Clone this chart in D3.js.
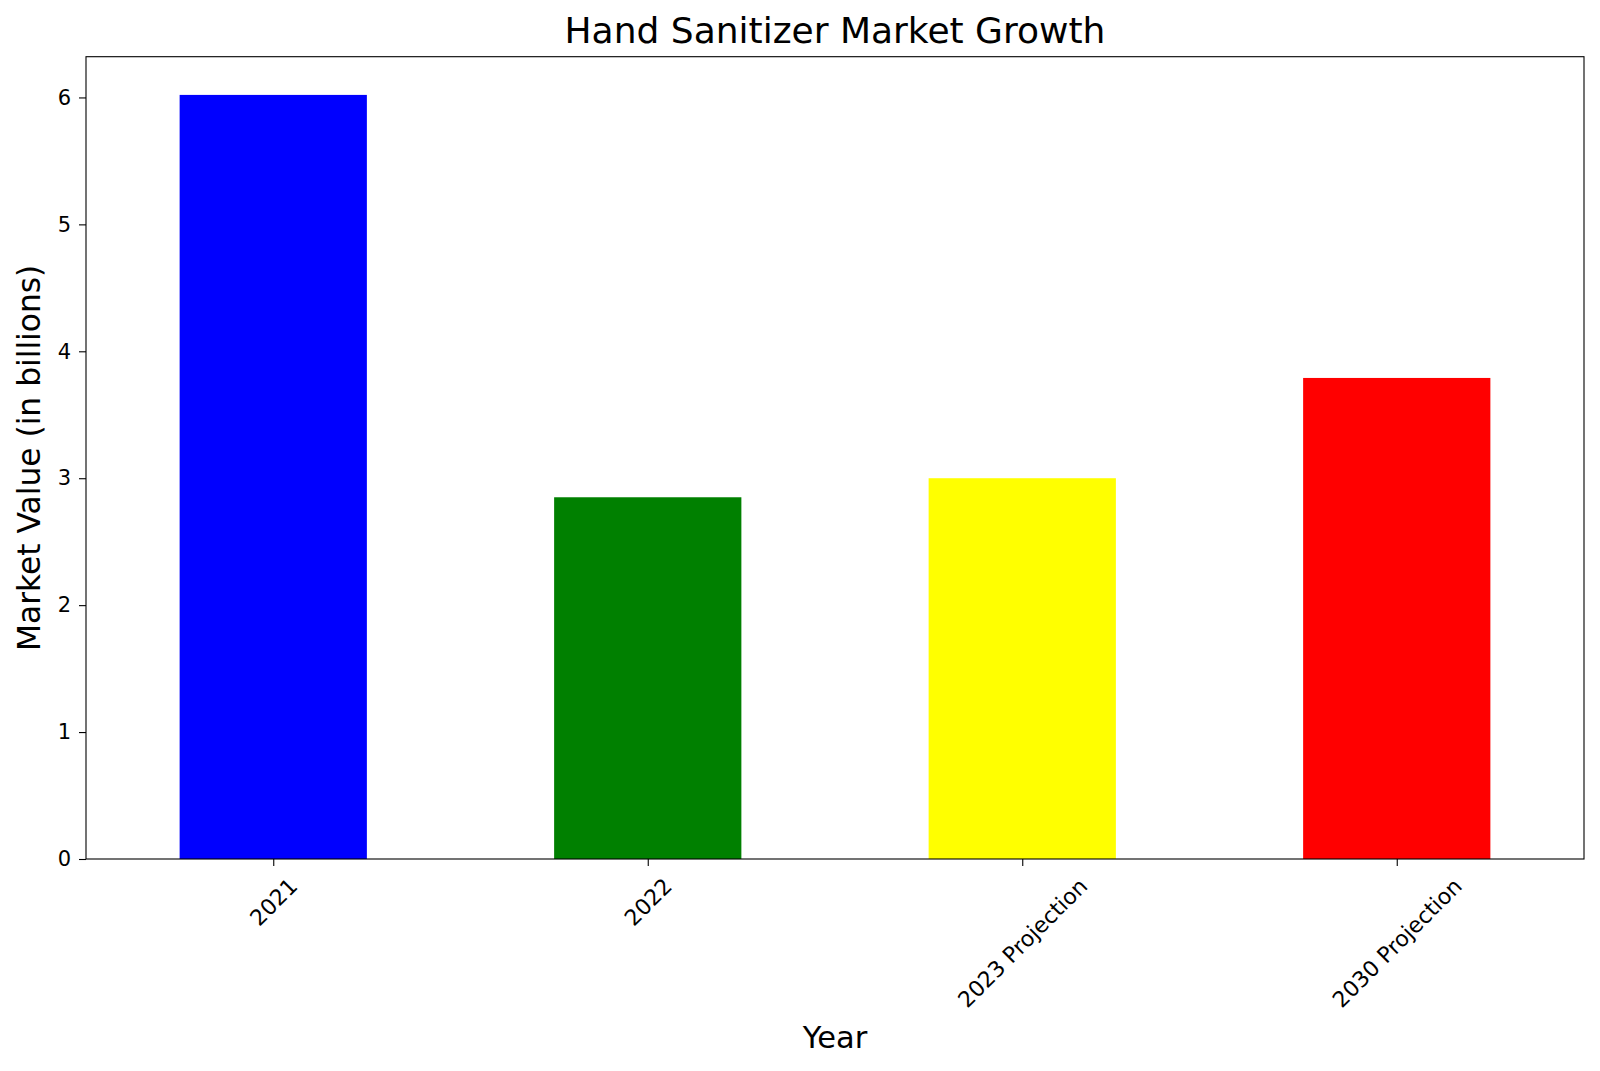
<!DOCTYPE html>
<html>
<head>
<meta charset="utf-8">
<script src="https://cdnjs.cloudflare.com/ajax/libs/d3/7.8.5/d3.min.js"></script>
<style>
  html, body { margin: 0; padding: 0; background: #fff; }
  text { font-family: "DejaVu Sans", sans-serif; fill: #000; }
</style>
</head>
<body>
<svg id="chart" width="1600" height="1071"></svg>
<script>
// ---- data ----
const categories = ["2021", "2022", "2023 Projection", "2030 Projection"];
const values = [6.02, 2.85, 3.0, 3.79];
const barColors = ["#0000ff", "#008000", "#ffff00", "#ff0000"];
const yTicks = [0, 1, 2, 3, 4, 5, 6];
const titleText = "Hand Sanitizer Market Growth";
const xLabelText = "Year";
const yLabelText = "Market Value (in billions)";

// ---- layout ----
const W = 1600, H = 1071;
const m = { left: 86, right: 1584, top: 56.7, bottom: 859 };
const svg = d3.select("#chart");

const x = d3.scaleLinear().domain([-0.5, categories.length - 0.5]).range([m.left, m.right]);
const y = d3.scaleLinear().domain([0, d3.max(values) * 1.05]).range([m.bottom, m.top]);
const barW = 0.5;

// bars
svg.append("g").selectAll("rect").data(values).join("rect")
  .attr("x", (d, i) => x(i - barW / 2))
  .attr("width", (d, i) => x(i + barW / 2) - x(i - barW / 2))
  .attr("y", d => y(d))
  .attr("height", d => y(0) - y(d))
  .attr("fill", (d, i) => barColors[i]);

// y axis
const yAxis = svg.append("g").attr("transform", `translate(${m.left},0)`)
  .call(d3.axisLeft(y).tickValues(yTicks).tickFormat(d3.format("d")).tickSize(7).tickPadding(8));
yAxis.select(".domain").remove();
yAxis.selectAll(".tick line").attr("stroke", "#000").attr("stroke-width", 1.1);
yAxis.selectAll(".tick text").attr("font-size", "21px").attr("font-family", "DejaVu Sans").attr("fill", "#000");

// x axis
const xAxis = svg.append("g").attr("transform", `translate(0,${m.bottom})`)
  .call(d3.axisBottom(x).tickValues(d3.range(categories.length)).tickFormat(i => categories[i]).tickSize(7));
xAxis.select(".domain").remove();
xAxis.selectAll(".tick line").attr("stroke", "#000").attr("stroke-width", 1.1);
xAxis.selectAll(".tick text")
  .attr("font-size", "22px").attr("font-family", "DejaVu Sans").attr("fill", "#000")
  .attr("text-anchor", "middle").attr("dy", null)
  .attr("dominant-baseline", "central")
  .each(function () {
    const bb = this.getBBox();
    const L = this.getComputedTextLength();
    const h = bb.height * 0.82;
    const half = (L + h) / (2 * Math.SQRT2);
    const topY = 875 - m.bottom;
    this.setAttribute("y", 0);
    this.setAttribute("transform", `translate(0,${topY + half}) rotate(-45)`);
  });

// frame
svg.append("rect")
  .attr("x", m.left).attr("y", m.top)
  .attr("width", m.right - m.left).attr("height", m.bottom - m.top)
  .attr("fill", "none").attr("stroke", "#000").attr("stroke-width", 1.1);

// title & labels
const cx = (m.left + m.right) / 2;
svg.append("text").attr("x", cx).attr("y", 43).attr("text-anchor", "middle")
  .attr("font-size", "36px").text(titleText);
svg.append("text").attr("x", cx).attr("y", 1048).attr("text-anchor", "middle")
  .attr("font-size", "30.5px").text(xLabelText);
svg.append("text").attr("transform", `translate(40,${(m.top + m.bottom) / 2}) rotate(-90)`)
  .attr("text-anchor", "middle").attr("font-size", "31.3px").text(yLabelText);
</script>
</body>
</html>
